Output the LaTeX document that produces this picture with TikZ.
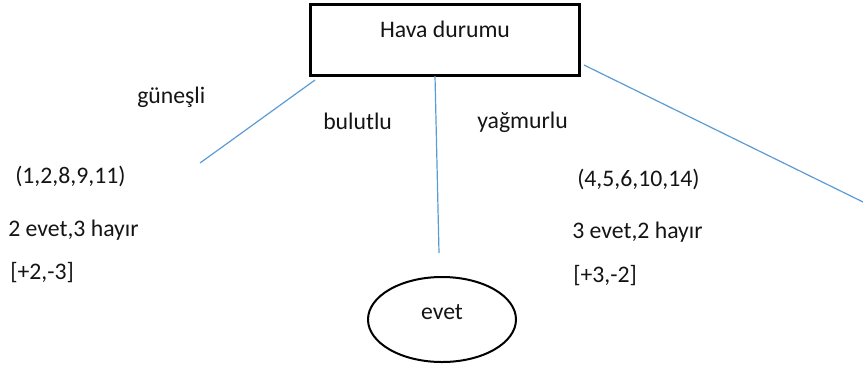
\documentclass[tikz,border=0pt]{standalone}
\usepackage{fontspec}
\setmainfont{Carlito}
\usetikzlibrary{positioning, shapes.geometric, calc}
\definecolor{dalblue}{RGB}{91,155,213}
\definecolor{yazigray}{RGB}{20,20,20}

\begin{document}
\begin{tikzpicture}[
  x=0.75pt, y=-0.75pt,
  every node/.style={font=\fontsize{17.8}{21}\selectfont,inner sep=0pt,
    text=yazigray},
  kokbox/.style={draw,line width=2.5pt,minimum width=201.75pt,
    minimum height=53.25pt},
  yaprak/.style={draw,ellipse,line width=1.5pt,minimum width=111pt,
    minimum height=63.75pt},
  dal/.style={draw=dalblue,line width=0.9pt},
  etk/.style={anchor=base west}
]
\useasboundingbox (0,0) rectangle (863,369);

\node[kokbox] (hava) at (445,40) {};
\node[anchor=base] (havayazi) at ($(hava.center)+(0,-3)$) {Hava durumu};

\node[yaprak] (evet) at (442,319.5) {};
\node[anchor=base] (evetyazi) at (evet.center) {evet};

% branch labels
\node[etk] (gunesli)  at (137,103) {güneşli};
\node[etk] (bulutlu)  at (323,129) {bulutlu};
\node[etk] (yagmurlu) at (477,128) {yağmurlu};

% left subset
\node[etk] (solliste) at (15,183) {(1,2,8,9,11)};
\node[etk] (solsayi)  at (8,236)  {2 evet,3 hayır};
\node[etk] (solfark)  at (10,279) {[+2,-3]};

% right subset
\node[etk] (sagliste) at (577,186) {(4,5,6,10,14)};
\node[etk] (sagsayi)  at (572,238) {3 evet,2 hayır};
\node[etk] (sagfark)  at (573,282) {[+3,-2]};

% branch ends
\coordinate (gunesli-ust) at (315,80);
\coordinate (gunesli-alt) at (200,163);
\coordinate (bulutlu-ust) at (435,76);
\coordinate (bulutlu-alt) at (439,253);
\coordinate (yagmurlu-ust) at (584,65);
\coordinate (yagmurlu-alt) at (863,202);

% Hava → güneşli
\draw[dal] (gunesli-ust) -- (gunesli-alt);

% Hava → bulutlu (evet)
\draw[dal] (bulutlu-ust) -- (bulutlu-alt);

% Hava → yağmurlu
\draw[dal] (yagmurlu-ust) -- (yagmurlu-alt);

\end{tikzpicture}
\end{document}
